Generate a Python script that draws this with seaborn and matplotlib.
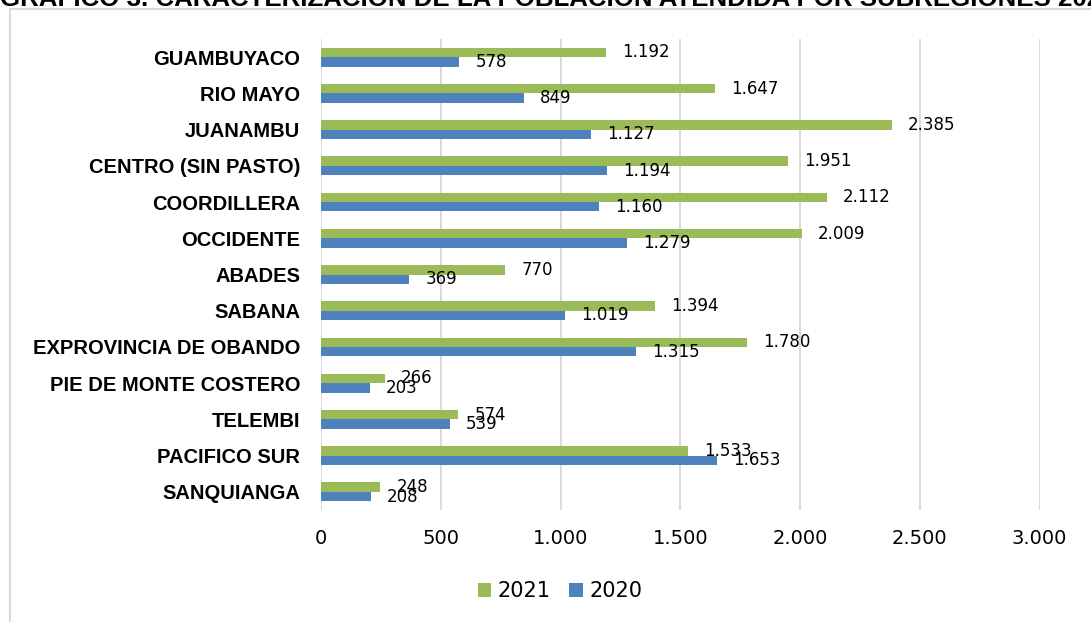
import matplotlib

matplotlib.use("Agg")
import matplotlib.pyplot as plt
import pandas as pd
import seaborn as sns
from matplotlib.patches import Rectangle

REGIONS = [
    "GUAMBUYACO", "RIO MAYO", "JUANAMBU", "CENTRO (SIN PASTO)", "COORDILLERA",
    "OCCIDENTE", "ABADES", "SABANA", "EXPROVINCIA DE OBANDO",
    "PIE DE MONTE COSTERO", "TELEMBI", "PACIFICO SUR", "SANQUIANGA",
]
Y2021 = [1192, 1647, 2385, 1951, 2112, 2009, 770, 1394, 1780, 266, 574, 1533, 248]
Y2020 = [578, 849, 1127, 1194, 1160, 1279, 369, 1019, 1315, 203, 539, 1653, 208]
YEARS = ["2021", "2020"]
COLORS = {"2021": "#9BBB59", "2020": "#4F81BD"}
XTICKS = [0, 500, 1000, 1500, 2000, 2500, 3000]
TITLE = "GRÁFICO 3. CARACTERIZACIÓN DE LA POBLACIÓN ATENDIDA POR SUBREGIONES 2020 - 2021"


def miles(v):
    return f"{v:,.0f}".replace(",", ".")


data = pd.DataFrame({
    "region": REGIONS * 2,
    "year": ["2021"] * len(REGIONS) + ["2020"] * len(REGIONS),
    "value": Y2021 + Y2020,
})

sns.set_style("white")
plt.rcParams["font.family"] = ["DejaVu Sans"]
plt.rcParams["text.color"] = "black"
plt.rcParams["xtick.color"] = "black"
plt.rcParams["ytick.color"] = "black"

fig = plt.figure(figsize=(10.91, 6.22), dpi=100)
ax = fig.add_axes([321 / 1091, 1 - 510 / 622, (1039.5 - 321) / 1091, (510 - 39) / 622])

sns.barplot(data, x="value", y="region", hue="year", hue_order=YEARS, palette=COLORS,
            orient="h", width=0.52, ax=ax, saturation=1, edgecolor="none")

for cont in ax.containers:
    ax.bar_label(cont, fmt=miles, padding=11.5, fontsize=12, color="black")

ax.set_xlim(0, 3000)
ax.set_xticks(XTICKS)
ax.set_xticklabels([miles(t) for t in XTICKS])
ax.set(xlabel="", ylabel="")
ax.xaxis.grid(True, color="#D9D9D9", linewidth=1.4)
ax.set_axisbelow(True)
for side in ["top", "right", "bottom", "left"]:
    ax.spines[side].set_visible(False)
ax.tick_params(axis="x", length=0, pad=14, labelsize=14, labelcolor="black")
ax.tick_params(axis="y", length=0, pad=15, labelcolor="black")
for lab in ax.get_yticklabels():
    lab.set_fontfamily(["Liberation Sans", "DejaVu Sans"])
    lab.set_fontweight("bold")
    lab.set_fontsize(14.5)

handles, labels = ax.get_legend_handles_labels()
ax.legend(handles, labels, loc="center", bbox_to_anchor=(560 / 1091, 1 - 591 / 622),
          bbox_transform=fig.transFigure, ncol=2, frameon=False, fontsize=15,
          handlelength=0.65, handleheight=0.65, handletextpad=0.3, columnspacing=0.9,
          labelcolor="black")

fig.text(0, 1 - 6 / 622, TITLE, ha="left", va="baseline", fontsize=18.6,
         fontweight="bold", color="black", family=["Liberation Sans", "DejaVu Sans"])
fig.patches.append(Rectangle((10 / 1091, -0.1), 1.2, 1.1 - 9.5 / 622, transform=fig.transFigure,
                             fill=False, edgecolor="#D9D9D9", linewidth=1.5))

fig.savefig("out.png", dpi=100)
